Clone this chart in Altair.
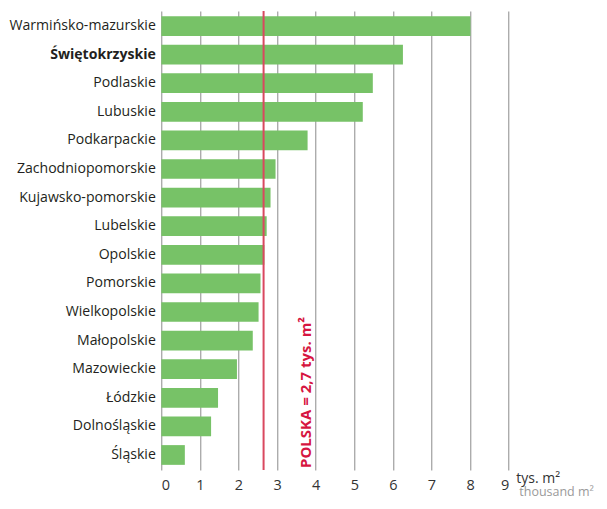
import altair as alt
import pandas as pd

regions = ["Warmińsko-mazurskie", "Świętokrzyskie", "Podlaskie", "Lubuskie",
           "Podkarpackie", "Zachodniopomorskie", "Kujawsko-pomorskie", "Lubelskie",
           "Opolskie", "Pomorskie", "Wielkopolskie", "Małopolskie", "Mazowieckie",
           "Łódzkie", "Dolnośląskie", "Śląskie"]
values = [8.01, 6.26, 5.48, 5.22, 3.79, 2.96, 2.83, 2.73, 2.67, 2.57, 2.52, 2.37,
          1.96, 1.47, 1.29, 0.61]
x_ticks = [0, 1, 2, 3, 4, 5, 6, 7, 8, 9]
poland_avg = [2.65]
poland_label = ["POLSKA = 2,7 tys. m²"]
unit_pl = "tys. m²"
unit_en = "thousand m²"
highlight = "Świętokrzyskie"

FONT = "Open Sans"
df = pd.DataFrame({"region": regions, "value": values})
avg_df = pd.DataFrame({"avg": poland_avg, "label": poland_label, "pos": [3.75]})

x_scale = alt.Scale(domain=[0, 9], nice=False, zero=True)
x_axis = alt.Axis(values=x_ticks, grid=True, gridColor="#8c8c8c", gridWidth=1,
                  domain=False, ticks=False, labelPadding=9, labelOverlap=False,
                  labelFont=FONT, labelFontSize=14.5, labelColor="#333333",
                  format="d", title=None)

bars = alt.Chart(df).mark_bar(color="#77c267").encode(
    y=alt.Y("region:N", sort=regions, title=None,
            scale=alt.Scale(paddingInner=0.31, paddingOuter=0.18),
            axis=alt.Axis(domain=False, ticks=False, labelPadding=6,
                          labelFont=FONT, labelFontSize=14.1, labelColor="#231f20",
                          labelLimit=200,
                          labelFontWeight={"condition": {"test": f"datum.value == '{highlight}'", "value": "bold"}, "value": "normal"})),
    x=alt.X("value:Q", scale=x_scale, title=None, axis=x_axis),
)

rule = alt.Chart(avg_df).mark_rule(color="#d9485f", strokeWidth=2).encode(
    x=alt.X("avg:Q", scale=x_scale, title=None, axis=x_axis)
)

avg_text = alt.Chart(avg_df).mark_text(
    angle=270, align="left", baseline="middle", font=FONT, fontSize=15,
    fontWeight="bold", color="#d6163f"
).encode(x=alt.X("pos:Q", scale=x_scale, title=None, axis=x_axis),
         y=alt.value(457), text="label:N")

unit1 = alt.Chart(avg_df).mark_text(
    align="left", baseline="alphabetic", font=FONT, fontSize=14, color="#333333"
).encode(x=alt.value(355), y=alt.value(472), text=alt.value(unit_pl))

unit2 = alt.Chart(avg_df).mark_text(
    align="left", baseline="alphabetic", font=FONT, fontSize=12.5, color="#9a9a9a"
).encode(x=alt.value(358), y=alt.value(485.5), text=alt.value(unit_en))

chart = alt.layer(bars, rule, avg_text, unit1, unit2).properties(
    width=347.4, height=459,
    autosize=alt.AutoSizeParams(type="none"),
    padding={"left": 153.3, "top": 3, "right": 90, "bottom": 31},
    background="white",
).configure_view(stroke=None)

chart.save("out.html", embed_options={"renderer": "svg", "actions": False})
